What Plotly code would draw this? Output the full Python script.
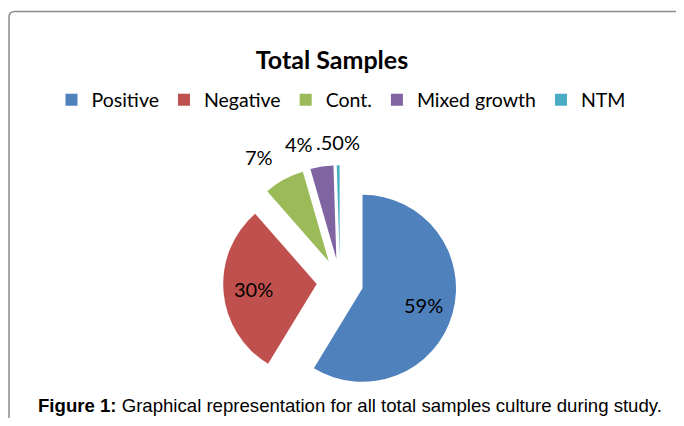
import math
import plotly.graph_objects as go

categories = ["Positive", "Negative", "Cont.", "Mixed growth", "NTM"]
values = [59, 30, 7, 4, 0.5]
value_labels = ["59%", "30%", "7%", "4%", ".50%"]
label_inside = [True, True, False, False, False]
colors = ["#4F81BD", "#C0504D", "#9BBB59", "#8064A2", "#4BACC6"]

# page (window) geometry: browser body margin is 8px, figure fills the rest exactly
OFF = 8
FW, FH = 684 - 2 * OFF, 426 - 2 * OFF


def px(xp):
    return (xp - OFF) / FW


def py(yp):
    return 1 - (yp - OFF) / FH


cx, cy, r, pull = 340, 282, 93.5, 0.25
half = r * (1 + pull)

fig = go.Figure(go.Pie(
    labels=categories,
    values=values,
    textinfo="none",
    marker=dict(colors=colors, line=dict(width=0)),
    pull=[pull] * len(values),
    sort=False,
    direction="clockwise",
    rotation=0,
    hoverinfo="label+percent",
    domain=dict(x=[px(cx - half), px(cx + half)], y=[py(cy + half), py(cy - half)]),
))

# data labels: inside ones at ~2/3 radius of the pulled slice, outside ones beyond the rim
annotations = []
total = sum(values)
cum = 0.0
R_lab = 126
lab_font = dict(family="Lato", size=20, color="black")
for v, lab, inside in zip(values, value_labels, label_inside):
    mid = (cum + v / 2) / total * 2 * math.pi
    cum += v
    s, c = math.sin(mid), math.cos(mid)
    if inside:
        d = pull * r + 0.68 * r
        annotations.append(dict(text=lab, x=px(cx + d * s), y=py(cy - d * c), xref="paper", yref="paper",
                                xanchor="center", yanchor="middle", showarrow=False, font=lab_font))
        continue
    xp = cx + R_lab * s
    yp = cy - R_lab * c
    if s < -0.1:
        xanchor, xshift = "right", -5
    elif s > 0.1:
        xanchor, xshift = "left", 5
    else:
        xanchor, xshift = "center", 0
    annotations.append(dict(text=lab, x=px(xp), y=py(yp), xref="paper", yref="paper",
                            xanchor=xanchor, yanchor="bottom", xshift=xshift, showarrow=False,
                            font=lab_font))

annotations.append(dict(
    text="<b>Figure 1:</b> Graphical representation for all total samples culture during study.",
    x=px(350), y=py(405), xref="paper", yref="paper", xanchor="center", yanchor="middle",
    showarrow=False, font=dict(family="Liberation Sans", size=18.6, color="black")))

x0 = px(9)
yt = py(11.5)
dx = 6 / FW
dy = 6 / FH
frame_path = f"M {x0},-0.2 L {x0},{yt - dy} Q {x0},{yt} {x0 + dx},{yt} L 1.2,{yt}"

fig.update_layout(
    width=FW, height=FH,
    margin=dict(l=0, r=0, t=0, b=0),
    paper_bgcolor="white",
    plot_bgcolor="white",
    title=dict(text="<b>Total Samples</b>", x=px(332), y=py(60), xanchor="center", yanchor="middle",
               font=dict(family="Lato", size=25, color="black")),
    showlegend=True,
    legend=dict(orientation="h", x=px(341), y=py(100), xanchor="center", yanchor="middle",
                font=dict(family="Lato", size=19.5, color="black"), bgcolor="rgba(0,0,0,0)",
                traceorder="normal"),
    shapes=[dict(type="path", path=frame_path, xref="paper", yref="paper",
                 line=dict(color="#8c8c8c", width=1.5))],
    annotations=annotations,
)

fig.write_html("out.html")
